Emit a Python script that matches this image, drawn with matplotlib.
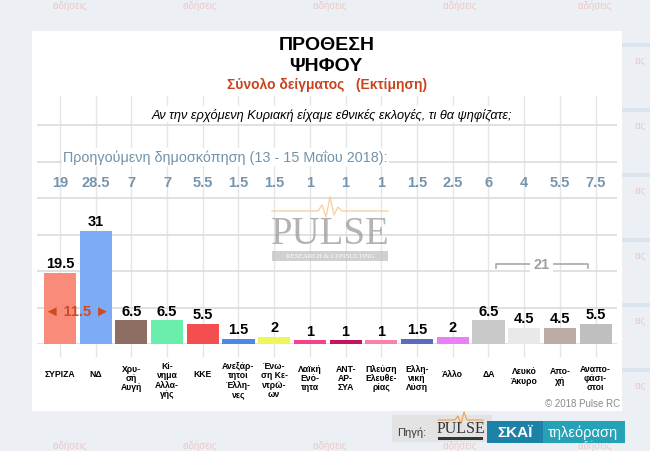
import matplotlib
matplotlib.use("Agg")
import matplotlib.pyplot as plt
from matplotlib.patches import Rectangle
from matplotlib.lines import Line2D

# ---------------- data ----------------
categories = ["ΣΥΡΙΖΑ", "ΝΔ", "Χρυ-\nσή\nΑυγή", "Κί-\nνημα\nΑλλα-\nγής", "ΚΚΕ",
              "Ανεξάρ-\nτητοι\nΈλλη-\nνες", "Ένω-\nση Κε-\nντρώ-\nων", "Λαϊκή\nΕνό-\nτητα",
              "ΑΝΤ-\nΑΡ-\nΣΥΑ", "Πλεύση\nΕλευθε-\nρίας", "Ελλη-\nνική\nΛύση", "Άλλο",
              "ΔΑ", "Λευκό\nΆκυρο", "Απο-\nχή", "Αναπο-\nφάσι-\nστοι"]
current = [19.5, 31, 6.5, 6.5, 5.5, 1.5, 2, 1, 1, 1, 1.5, 2, 6.5, 4.5, 4.5, 5.5]
previous = ["19", "28.5", "7", "7", "5.5", "1.5", "1.5", "1", "1", "1", "1.5", "2.5",
            "6", "4", "5.5", "7.5"]
colors = ["#f98b7a", "#7eabf6", "#8d6e63", "#69efab", "#f44f4f", "#4a88ea", "#eef65a",
          "#f5428a", "#c4135f", "#f981ab", "#5c6bc0", "#ea80f8", "#c9c9c9", "#e9e9e9",
          "#bcaaa4", "#bfbfbf"]
gap_label = "11.5"
other_sum = "21"

W, H = 650, 452
SANS = ["Liberation Sans", "DejaVu Sans"]
NARROW = ["Liberation Sans Narrow", "Liberation Sans", "DejaVu Sans"]
plt.rcParams['font.family'] = SANS

fig = plt.figure(figsize=(W / 100, H / 100), dpi=100)
fig.patch.set_facecolor("#eceff3")

def fx(x):
    return x / W

def fy(y):
    return 1 - y / H

def frect(x0, y0, x1, y1, **kw):
    r = Rectangle((fx(x0), fy(y1)), (x1 - x0) / W, (y1 - y0) / H, transform=fig.transFigure,
                  edgecolor="none", **kw)
    fig.patches.append(r)
    return r

# background decoration
for xx in [70, 200, 330, 460, 595]:
    fig.text(fx(xx), fy(6), "ειδήσεις", fontsize=7, color="#eccaca", ha="center", va="center")
    fig.text(fx(xx), fy(446), "ειδήσεις", fontsize=7, color="#eccaca", ha="center", va="center")
for yy in [60, 125, 190, 255, 320, 385]:
    fig.text(fx(640), fy(yy), "εις", fontsize=7, color="#eccaca", ha="center", va="center")
    frect(622, yy - 16, 650, yy - 12, facecolor="#d9e4ef", zorder=-20)

# white panel
frect(32, 32, 622, 412, facecolor="white", zorder=-10)

# titles
fig.text(fx(327), fy(46), "ΠΡΟΘΕΣΗ", fontsize=14, fontweight="bold", ha="center", va="center")
fig.text(fx(326), fy(67), "ΨΗΦΟΥ", fontsize=14, fontweight="bold", ha="center", va="center")
fig.text(fx(327), fy(85), "Σύνολο δείγματος   (Εκτίμηση)", fontsize=10, fontweight="bold",
         color="#c9431f", ha="center", va="center")

# main axes
left, right, bottom, top = 37, 617, 345, 97
ax = fig.add_axes([fx(left), fy(bottom), (right - left) / W, (bottom - top) / H])
ax.set_zorder(1)
ax.set_facecolor("none")
ax.set_xlim(-0.64, 15.6)
ax.set_ylim(0, 68)
for s in ax.spines.values():
    s.set_visible(False)
ax.set_yticks([0, 10, 20, 30, 40, 50, 60])
ax.set_yticklabels([])
ax.tick_params(axis="y", length=0)
ax.grid(axis="y", color="#dedede", linewidth=1.3, zorder=0)
xs = list(range(len(categories)))
ax.set_xticks(xs)
ax.set_xticklabels([])
ax.tick_params(axis="x", length=9, color="#e4e4e4", width=1)
ax.grid(axis="x", color="#e6e6e6", linewidth=1, zorder=0)
ax.set_axisbelow(True)

ax.bar(xs, current, width=0.9, color=colors, zorder=3)
for x, v in zip(xs, current):
    ax.annotate(f"{v:g}", (x, v), xytext=(0, 2), textcoords="offset points",
                ha="center", va="bottom", fontsize=10.5, fontweight="bold", zorder=4)

# previous poll row
ax.text((63 - left) / ((right - left) / (15.6 + 0.64)) - 0.64, (bottom - 158) / ((bottom - top) / 68),
        "Προηγούμενη δημοσκόπηση (13 - 15 Μαΐου 2018):", fontsize=10.4,
        color="#7393aa", ha="left", va="center", zorder=5,
        bbox=dict(boxstyle="square,pad=0.1", facecolor="white", edgecolor="none"))
for x, p in zip(xs, previous):
    ax.text(x, 44.4, p, fontsize=10.5, fontweight="bold", color="#7595ad",
            ha="center", va="center", zorder=4)

# question
fig.text(fx(332), fy(115), "Αν την ερχόμενη Κυριακή είχαμε εθνικές εκλογές, τι θα ψηφίζατε;",
         fontsize=9.2, style="italic", ha="center", va="center", zorder=3,
         bbox=dict(boxstyle="square,pad=0.1", facecolor="white", edgecolor="none"))

# gap annotation
ax.text(0.5, 9, "◄ " + gap_label + " ►", fontsize=10.5, fontweight="bold", color="#cf4a1c",
        ha="center", va="center", zorder=5, family=SANS)

# bracket
bx0, bx1, by = 12.2, 14.78, 22
ax.plot([bx0, bx0, bx1, bx1], [by - 1.2, by, by, by - 1.2], color="#a8a8a8", lw=1.2, zorder=4)
ax.text((bx0 + bx1) / 2, by, other_sum, fontsize=10.5, fontweight="bold", color="#a0a0a0",
        ha="center", va="center", zorder=5,
        bbox=dict(boxstyle="square,pad=0.25", facecolor="white", edgecolor="none"))

# category labels
for x, c in zip(xs, categories):
    n = c.count("\n") + 1
    ypx = 370 - 2.7 * (n - 1)
    ax.text(x, -(ypx - bottom) / ((bottom - top) / 68), c, fontsize=6.2, fontweight="bold",
            family=NARROW, ha="center", va="top", linespacing=1.05, clip_on=False)

# watermark
fig.text(fx(330), fy(235), "PULSE", fontsize=28, family=["Liberation Serif", "DejaVu Serif"],
         color="#9a9a9a", alpha=0.75, ha="center", va="center", zorder=2)
frect(272, 252, 388, 262, facecolor="#bdbdbd", alpha=0.7, zorder=1)
fig.text(fx(330), fy(257), "RESEARCH & CONSULTING", fontsize=5, color="white",
         family=["Liberation Serif", "DejaVu Serif"], ha="center", va="center", zorder=2)
px = [272, 318, 322, 326, 330, 334, 338, 342, 388]
py = [212, 212, 206, 218, 198, 216, 208, 212, 212]
fig.lines.append(Line2D([fx(a) for a in px], [fy(b) for b in py], transform=fig.transFigure,
                        color="#f5c88a", lw=1, alpha=0.8))

# copyright
fig.text(fx(620), fy(404), "© 2018 Pulse RC", fontsize=7, color="#8a8a8a", ha="right", va="center")

# logo strip
frect(392, 416, 492, 443, facecolor="#e3e3e3")
fig.text(fx(412), fy(433), "Πηγή:", fontsize=8, color="#3a3a3a", ha="center", va="center")
fig.text(fx(461), fy(429), "PULSE", fontsize=11.5, family=["Liberation Serif", "DejaVu Serif"],
         color="#333333", ha="center", va="center")
frect(438, 438, 483, 441, facecolor="#333333")
lx = [438, 455, 458, 461, 464, 467, 483]
ly = [421, 421, 417, 425, 413, 421, 421]
fig.lines.append(Line2D([fx(a) for a in lx], [fy(b) for b in ly], transform=fig.transFigure,
                        color="#f0a040", lw=0.8))
frect(487, 422, 543, 444, facecolor="#1c82a8")
frect(543, 422, 625, 444, facecolor="#26a2b6")
fig.text(fx(515), fy(433), "ΣΚΑΪ", fontsize=11, fontweight="bold", color="white",
         ha="center", va="center")
fig.text(fx(583), fy(433), "τηλεόραση", fontsize=10.5, color="white", ha="center", va="center")

fig.savefig("out.png", dpi=100, facecolor=fig.get_facecolor())
